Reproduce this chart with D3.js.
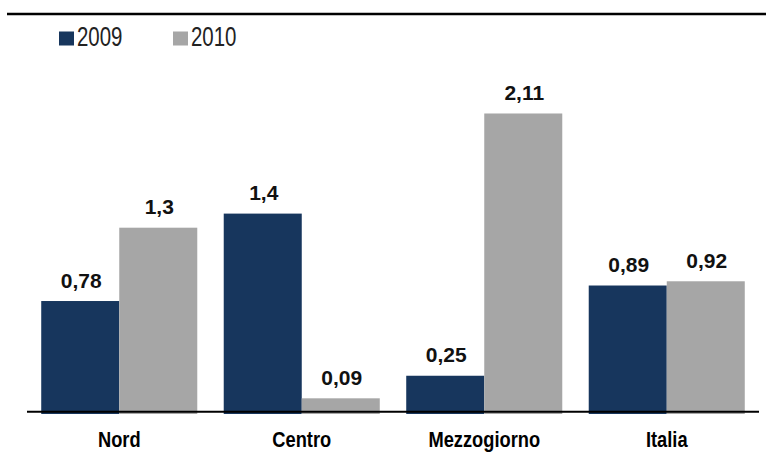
<!DOCTYPE html>
<html>
<head>
<meta charset="utf-8">
<script src="https://cdn.jsdelivr.net/npm/d3@7"></script>
<style>
    body { margin: 0; background: #fff; }
    text { font-family: 'Liberation Sans', Arial, sans-serif; }
</style>
</head>
<body>
<div id="content"></div>
<script>
'use strict';

var categories = ['Nord', 'Centro', 'Mezzogiorno', 'Italia'];
var seriesKeys = ['2009', '2010'];
var values2009 = [0.78, 1.4, 0.25, 0.89];
var values2010 = [1.3, 0.09, 2.11, 0.92];
var valueLabels2009 = ['0,78', '1,4', '0,25', '0,89'];
var valueLabels2010 = ['1,3', '0,09', '2,11', '0,92'];

var colors = { '2009': '#17365d', '2010': '#a6a6a6' };

function run() {
    var width = 766, height = 460;

    var svg = d3.select('#content')
        .append('svg')
        .attr('width', width)
        .attr('height', height);

    var x = d3.scaleBand()
        .domain(categories)
        .range([28, 758])
        .paddingInner(0.145)
        .paddingOuter(0.0725);

    var xInner = d3.scaleBand()
        .domain(seriesKeys)
        .range([0, x.bandwidth()]);

    var y = d3.scaleLinear()
        .domain([0, 2.5])
        .range([411, 58.5]);

    var data = categories.map(function (c, i) {
        return {
            category: c,
            bars: [
                { key: '2009', value: values2009[i], label: valueLabels2009[i] },
                { key: '2010', value: values2010[i], label: valueLabels2010[i] }
            ]
        };
    });

    // top rule
    svg.append('line')
        .attr('x1', 7).attr('x2', 766)
        .attr('y1', 14).attr('y2', 14)
        .attr('stroke', '#000')
        .attr('stroke-width', 2.5);

    var group = svg.selectAll('.group')
        .data(data)
        .enter()
        .append('g')
        .attr('class', 'group')
        .attr('transform', function (d) { return 'translate(' + x(d.category) + ' 0)'; });

    group.selectAll('rect')
        .data(function (d) { return d.bars; })
        .enter()
        .append('rect')
        .attr('x', function (d) { return xInner(d.key); })
        .attr('width', xInner.bandwidth())
        .attr('y', function (d) { return y(d.value); })
        .attr('height', function (d) { return y(0) - y(d.value) + 3; })
        .attr('fill', function (d) { return colors[d.key]; });

    group.selectAll('.value')
        .data(function (d) { return d.bars; })
        .enter()
        .append('text')
        .attr('class', 'value')
        .attr('x', function (d) { return xInner(d.key) + xInner.bandwidth() / 2 + 1; })
        .attr('y', function (d) { return y(d.value) - 13.5; })
        .attr('text-anchor', 'middle')
        .style('font-size', '21px')
        .style('font-weight', 'bold')
        .style('fill', '#111')
        .text(function (d) { return d.label; });

    // baseline
    svg.append('line')
        .attr('x1', 27).attr('x2', 759)
        .attr('y1', y(0) + 0.7).attr('y2', y(0) + 0.7)
        .attr('stroke', '#000')
        .attr('stroke-width', 2);

    // category labels
    svg.selectAll('.cat')
        .data(categories)
        .enter()
        .append('g')
        .attr('class', 'cat')
        .attr('transform', function (d) { return 'translate(' + (x(d) + x.bandwidth() / 2) + ' 446.5)'; })
        .append('text')
        .attr('text-anchor', 'middle')
        .attr('transform', 'scale(0.85 1)')
        .style('font-size', '21.5px')
        .style('font-weight', 'bold')
        .style('fill', '#000')
        .text(function (d) { return d; });

    // legend
    var legend = svg.selectAll('.legend')
        .data(seriesKeys)
        .enter()
        .append('g')
        .attr('class', 'legend')
        .attr('transform', function (d, i) { return 'translate(' + (59 + i * 114) + ' 0)'; });

    legend.append('rect')
        .attr('x', 0).attr('y', 31.5)
        .attr('width', 15).attr('height', 14)
        .attr('fill', function (d) { return colors[d]; });

    legend.append('g')
        .attr('transform', 'translate(18 46)')
        .append('text')
        .attr('transform', 'scale(0.73 1)')
        .style('font-size', '28px')
        .style('fill', '#222')
        .text(function (d) { return d; });
}

document.addEventListener('DOMContentLoaded', run);
</script>
</body>
</html>
